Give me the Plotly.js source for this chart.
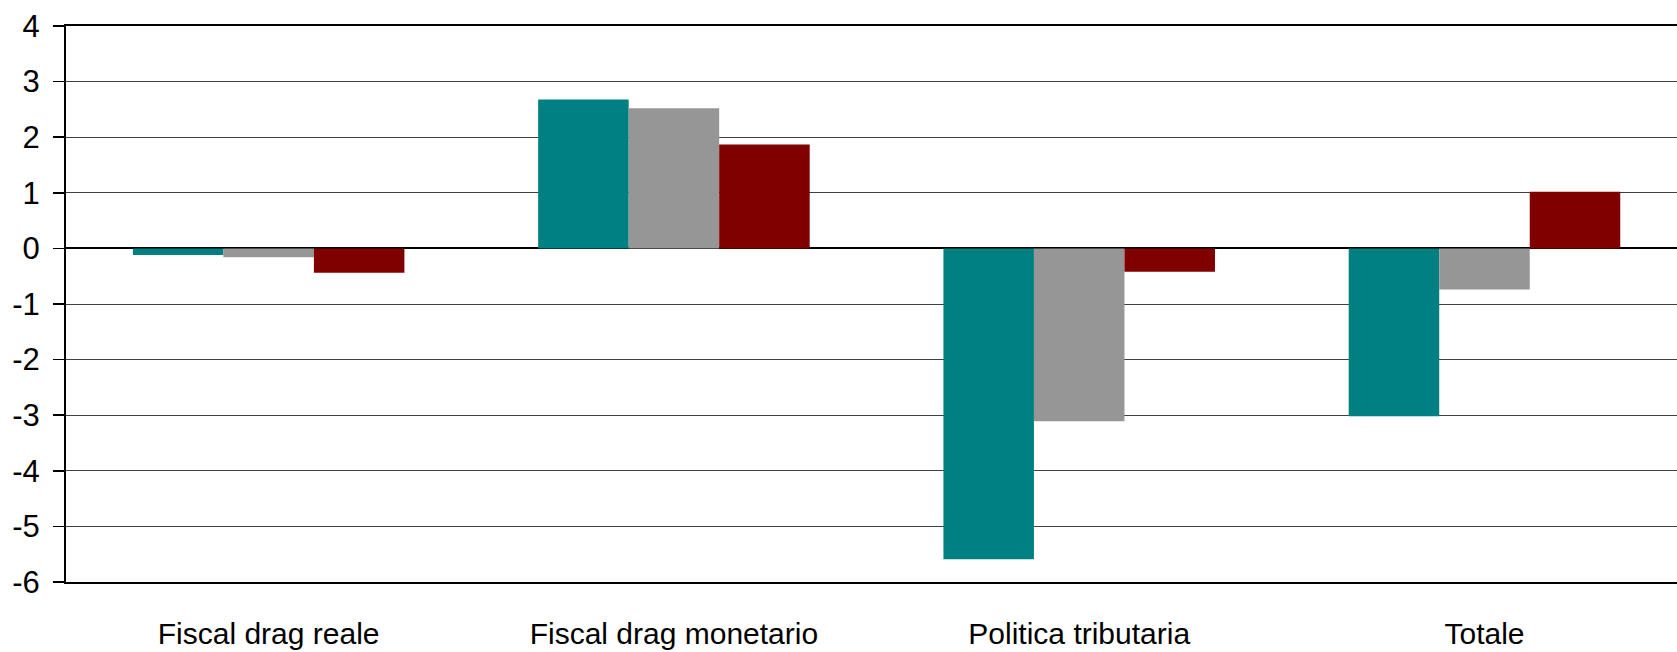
<!DOCTYPE html>
<html>
<head>
<meta charset="utf-8">
<script src="https://cdn.plot.ly/plotly-3.0.1.min.js"></script>
<style>html,body{margin:0;padding:0;background:#fff;}#chart{width:1677px;height:652px;}</style>
</head>
<body>
<div id="chart"></div>
<script>
const categories = ["Fiscal drag reale", "Fiscal drag monetario", "Politica tributaria", "Totale"];
const serieTeal = [-0.12, 2.68, -5.59, -3.02];
const serieGray = [-0.16, 2.52, -3.11, -0.74];
const serieRed  = [-0.44, 1.87, -0.42, 1.02];
const yTicks = [4, 3, 2, 1, 0, -1, -2, -3, -4, -5, -6];

const FONT = '"Liberation Sans", Arial, sans-serif';

function bar(name, y, color) {
  return {
    type: 'bar', name: name, x: categories, y: y,
    marker: {color: color, line: {width: 0}},
    hoverinfo: 'x+y'
  };
}

const data = [
  bar('Serie 1', serieTeal, '#008080'),
  bar('Serie 2', serieGray, '#969696'),
  bar('Serie 3', serieRed, '#800000')
];

const layout = {
  width: 1677, height: 652,
  margin: {l: 66, r: 0, t: 26, b: 70, pad: 0},
  paper_bgcolor: '#ffffff', plot_bgcolor: '#ffffff',
  showlegend: false,
  barmode: 'group', bargap: 0.33, bargroupgap: 0,
  font: {family: FONT, color: '#000000', size: 30},
  xaxis: {
    type: 'category', categoryarray: categories,
    range: [-0.5, 3.475],
    showline: true, linecolor: '#000000', linewidth: 2, mirror: true,
    ticks: '', showgrid: false, zeroline: false,
    tickfont: {family: FONT, size: 30, color: '#000000'},
    ticklabelstandoff: 24
  },
  xaxis2: {
    overlaying: 'x', anchor: 'free', position: 0.6, side: 'bottom',
    range: [-0.5, 3.475],
    tickmode: 'array', tickvals: [0.5, 1.5, 2.5],
    ticks: 'outside', ticklen: 10, tickwidth: 2, tickcolor: '#000000',
    showticklabels: false, showgrid: false, showline: false, zeroline: false
  },
  yaxis: {
    range: [-6, 4],
    tickmode: 'array', tickvals: yTicks, ticktext: yTicks.map(String),
    ticks: 'outside', ticklen: 11, tickwidth: 1.5, tickcolor: '#000000',
    showline: true, linecolor: '#000000', linewidth: 2,
    showgrid: true, gridcolor: '#404040', gridwidth: 1,
    zeroline: true, zerolinecolor: '#000000', zerolinewidth: 2,
    tickfont: {family: FONT, size: 31, color: '#000000'},
    ticklabelstandoff: 7
  }
};

Plotly.newPlot('chart', data, layout, {staticPlot: true, displayModeBar: false});
</script>
</body>
</html>
